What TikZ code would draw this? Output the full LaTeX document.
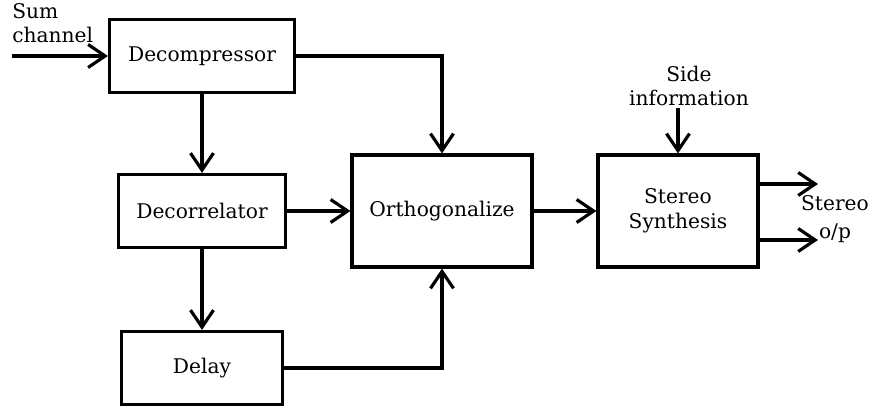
\documentclass[tikz,border=0pt]{standalone}
\usepackage{fontspec}
\setmainfont{DejaVu Serif}
\usetikzlibrary{arrows.meta}

\begin{document}
\begin{tikzpicture}[x=0.02cm, y=-0.02cm,
    every node/.style={font=\fontsize{11.5}{14}\selectfont},
    block/.style={draw, line width=1.8pt, inner sep=0pt},
    conn/.style={line width=1.8pt, -{Straight Barb[length=3.4mm, width=4.6mm, line width=1.8pt]}}]
    \useasboundingbox (0,0) rectangle (873,411);

    % Blocks
    \node[block, minimum width=3.7cm, minimum height=1.46cm] (decomp) at (202, 56) {Decompressor};
    \node[block, minimum width=3.34cm, minimum height=1.46cm] (decorr) at (202, 211) {Decorrelator};
    \node[block, minimum width=3.22cm, minimum height=1.46cm] (delay) at (202, 368) {Delay};
    \node[block, minimum width=3.6cm, minimum height=2.24cm] (orth) at (442, 211) {Orthogonalize};
    \node[block, minimum width=3.2cm, minimum height=2.24cm, align=center] (synth) at (678, 211) {Stereo\\Synthesis};

    % Labels
    \node[anchor=north west, align=left, inner sep=0pt] (sumtxt) at (12, 3) {Sum\\channel};
    \node[align=center, inner sep=1pt] (side) at (689, 86) {Side\\information};
    \node[align=center, inner sep=1pt, font=\fontsize{11.5}{16}\selectfont] (out) at (835, 219) {Stereo\\o/p};

    \coordinate (sumin) at (12, 56);
    \coordinate (outa) at (818, 184);
    \coordinate (outb) at (818, 240);

    % Arrows
    \draw[conn] (sumin) -- (decomp.west);
    \draw[conn] (decomp.east) -| (orth.north);
    \draw[conn] (decomp.south) -- (decorr.north);
    \draw[conn] (decorr.east) -- (orth.west);
    \draw[conn] (decorr.south) -- (delay.north);
    \draw[conn] (delay.east) -| (orth.south);
    \draw[conn] (orth.east) -- (synth.west);
    \draw[conn] (side.south -| synth.north) -- (synth.north);
    \draw[conn] (synth.east |- outa) -- (outa);
    \draw[conn] (synth.east |- outb) -- (outb);

  \end{tikzpicture}
\end{document}
